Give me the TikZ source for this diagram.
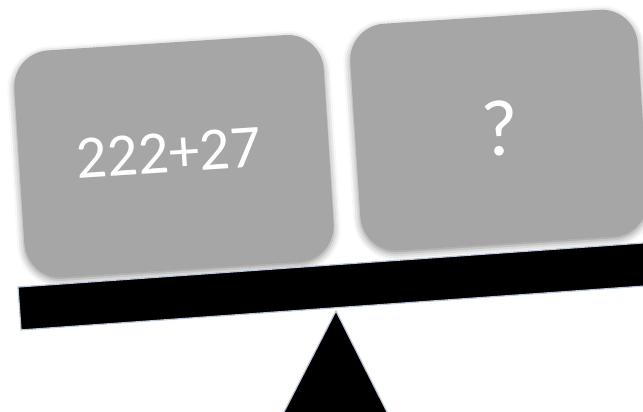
\documentclass[tikz,border=0pt]{standalone}
\usepackage{fontspec}
\setmainfont{Carlito}
\usetikzlibrary{shadows.blur}
\definecolor{boxgray}{RGB}{166,166,166}
\definecolor{edgeblue}{RGB}{188,198,218}
\begin{document}
\begin{tikzpicture}[x=1pt,y=-1pt,
  panel/.style={fill=boxgray, draw=none, rounded corners=36pt,
    minimum width=#1, minimum height=227pt, inner sep=0pt, rotate=3.7,
    blur shadow={shadow xshift=0pt, shadow yshift=-3pt,
      shadow blur radius=7pt, shadow opacity=45}},
  label/.style={text=white, inner sep=0pt, rotate=3.7},
  beam/.style={fill=black, draw=edgeblue, line width=1.2pt,
    minimum width=660pt, minimum height=43pt, inner sep=0pt, rotate=4.03},
  fulcrum/.style={fill=black, draw=edgeblue, line width=1.2pt, line join=miter}]
\useasboundingbox (0,0) rectangle (643,412);
\clip (0,0) rectangle (643,412);
\node[panel=310pt] (left) at (174,156) {};
\node[panel=288pt] (right) at (499,130) {};
\node[label, font=\fontsize{61}{61}\selectfont] (sum) at (169,153) {222+27};
\node[label, font=\fontsize{80}{80}\selectfont] (q) at (500,128) {?};
\node[beam] (bar) at (348.7,285.3) {};
\coordinate (apex) at (336,311);
\coordinate (bl) at (283,414);
\coordinate (br) at (388,414);
\draw[fulcrum] (apex) -- (br) -- (bl) -- cycle;
\end{tikzpicture}
\end{document}
